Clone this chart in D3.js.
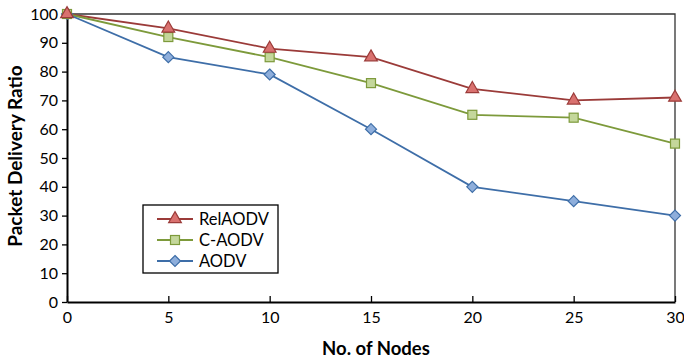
<!DOCTYPE html>
<html><head><meta charset="utf-8">
<script src="https://cdn.jsdelivr.net/npm/d3@7"></script>
<style>body{margin:0;background:#fff}svg{display:block}text{font-family:Lato,"Open Sans",sans-serif}</style>
</head><body><svg width="684" height="360"></svg>
<script>
const nodes = [0, 5, 10, 15, 20, 25, 30];
const relAODV = [100, 95, 88, 85, 74, 70, 71];
const cAODV = [100, 92, 85, 76, 65, 64, 55];
const aodv = [100, 85, 79, 60, 40, 35, 30];
const yTicks = [0,10,20,30,40,50,60,70,80,90,100];
const series = [
  {name:"RelAODV", values: relAODV, stroke:"#9b3b39", fill:"#d9716f", shape:"triangle"},
  {name:"C-AODV", values: cAODV, stroke:"#7d9a3b", fill:"#c4d79b", shape:"square"},
  {name:"AODV", values: aodv, stroke:"#3e6ea8", fill:"#8eaedb", shape:"diamond"}
];
const svg = d3.select("svg");
const L=67,R=675,T=14,B=302;
const x = d3.scaleLinear().domain([0,30]).range([L,R]);
const y = d3.scaleLinear().domain([0,100]).range([B,T]);

svg.append("path").attr("d",`M${L},${T}H${R}V${B}`).attr("fill","none").attr("stroke","#333").attr("stroke-width",1.3);

const xa = svg.append("g").attr("transform",`translate(0,${B})`)
  .call(d3.axisBottom(x).tickValues(nodes).tickSizeInner(-6).tickSizeOuter(0).tickPadding(10));
const ya = svg.append("g").attr("transform",`translate(${L},0)`)
  .call(d3.axisLeft(y).tickValues(yTicks).tickSizeInner(5).tickSizeOuter(0).tickPadding(4));
[xa,ya].forEach(a=>{
  a.select(".domain").attr("stroke","#000").attr("stroke-width",2);
  a.selectAll(".tick line").attr("stroke","#000").attr("stroke-width",1.3);
  a.selectAll("text").attr("font-size",16).attr("fill","#000");
});

svg.append("text").attr("x",376).attr("y",355).attr("text-anchor","middle")
  .attr("font-size",18.5).attr("font-weight","bold").text("No. of Nodes");
svg.append("text").attr("transform",`translate(22,156) rotate(-90)`).attr("text-anchor","middle")
  .attr("font-size",19).attr("font-weight","bold").text("Packet Delivery Ratio");

function marker(g, shape, s){
  if(shape==="triangle") g.append("path").attr("d",d3.symbol(d3.symbolTriangle,70)());
  else if(shape==="square") g.append("rect").attr("x",-4.5).attr("y",-4.5).attr("width",9).attr("height",9);
  else g.append("path").attr("d","M0,-5.5L5.5,0L0,5.5L-5.5,0Z");
  g.selectAll("*").attr("fill",s.fill).attr("stroke",s.stroke).attr("stroke-width",1.2);
}
const line = d3.line().x((d,i)=>x(nodes[i])).y(d=>y(d));
series.forEach(s=>{
  svg.append("path").attr("d",line(s.values)).attr("fill","none").attr("stroke",s.stroke).attr("stroke-width",1.8);
});
series.slice().reverse().forEach(s=>{
  s.values.forEach((v,i)=>{
    const g=svg.append("g").attr("transform",`translate(${x(nodes[i])},${y(v)})`);
    marker(g,s.shape,s);
  });
});

const lg = svg.append("g");
lg.append("rect").attr("x",143).attr("y",205).attr("width",135).attr("height",68)
  .attr("fill","#fff").attr("stroke","#000").attr("stroke-width",1.3);
series.forEach((s,i)=>{
  const yy = 219 + i*21;
  lg.append("line").attr("x1",157).attr("x2",193).attr("y1",yy).attr("y2",yy).attr("stroke",s.stroke).attr("stroke-width",1.8);
  const g=lg.append("g").attr("transform",`translate(175,${yy})`);
  marker(g,s.shape,s);
  lg.append("text").attr("x",199).attr("y",yy+6).attr("font-size",16.5).text(s.name);
});
</script></body></html>
